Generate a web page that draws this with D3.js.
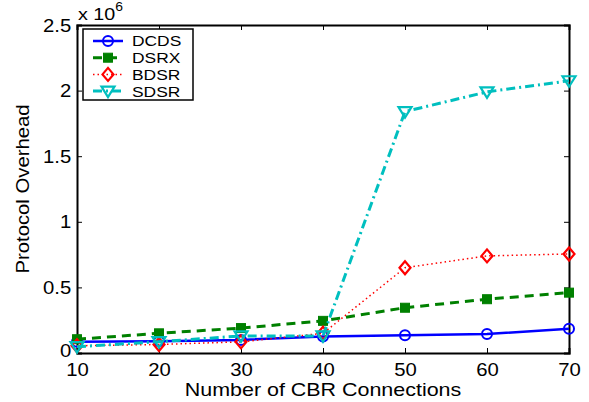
<!DOCTYPE html>
<html>
<head>
<meta charset="utf-8">
<script src="https://cdn.jsdelivr.net/npm/d3@7"></script>
<style>
  html, body { margin: 0; padding: 0; background: #fff; }
  svg { display: block; font-family: "Liberation Sans", Arial, sans-serif; }
</style>
</head>
<body>
<svg id="chart" width="589" height="402"></svg>
<script>
// Connections on the x axis
const connections = [10, 20, 30, 40, 50, 60, 70];
// Protocol overhead in units of 10^6
const dcds = [0.085, 0.09, 0.10, 0.125, 0.135, 0.145, 0.185];
const dsrx = [0.105, 0.15, 0.19, 0.245, 0.345, 0.41, 0.46];
const bdsr = [0.055, 0.065, 0.085, 0.15, 0.65, 0.74, 0.755];
const sdsr = [0.048, 0.086, 0.13, 0.13, 1.84, 1.99, 2.075];
const yTicks = [0, 0.5, 1, 1.5, 2, 2.5];
const yTickLabels = ["0", "0.5", "1", "1.5", "2", "2.5"];

const series = [
  { name: "DCDS", values: dcds, color: "#0000ff", width: 2.5, dash: null, marker: "circle" },
  { name: "DSRX", values: dsrx, color: "#008000", width: 3, dash: "9,6", marker: "square" },
  { name: "BDSR", values: bdsr, color: "#ff0000", width: 1.5, dash: "1.5,3", marker: "diamond" },
  { name: "SDSR", values: sdsr, color: "#00bfbf", width: 3, dash: "9,4,2,4", marker: "triangle" }
];

const svg = d3.select("#chart");
const m = { left: 77, right: 20, top: 25, bottom: 49 };
const W = 589, H = 402;
const x = d3.scaleLinear().domain([10, 70]).range([m.left, W - m.right]);
const y = d3.scaleLinear().domain([0, 2.5]).range([H - m.bottom, m.top]);

// Text is set a little wide, like the original figure's font
const STRETCH = 1.16;
function wideText(parent, px, py, str, size, anchor) {
  return parent.append("text")
    .attr("transform", `translate(${px},${py}) scale(${STRETCH},1)`)
    .attr("text-anchor", anchor || "start")
    .attr("font-size", size).attr("fill", "#000").text(str);
}

// Axes (ticks pointing inward, mirrored on top and right)
const tickLen = 5;
const gx = svg.append("g").attr("transform", `translate(0,${y(0)})`)
  .call(d3.axisBottom(x).tickValues(connections).tickSize(-tickLen).tickPadding(10));
const gxTop = svg.append("g").attr("transform", `translate(0,${y(2.5)})`)
  .call(d3.axisTop(x).tickValues(connections).tickSize(-tickLen).tickFormat(""));
const gy = svg.append("g").attr("transform", `translate(${x(10)},0)`)
  .call(d3.axisLeft(y).tickValues(yTicks).tickSize(-tickLen).tickPadding(5)
    .tickFormat((d, i) => yTickLabels[i]));
const gyRight = svg.append("g").attr("transform", `translate(${x(70)},0)`)
  .call(d3.axisRight(y).tickValues(yTicks).tickSize(-tickLen).tickFormat(""));

[gx, gxTop, gy, gyRight].forEach(g => {
  g.select(".domain").attr("stroke", "#000").attr("stroke-width", 2);
  g.selectAll(".tick line").attr("stroke", "#000").attr("stroke-width", 1);
  g.selectAll("text").attr("fill", "#000").attr("font-size", 17.5)
    .attr("font-family", "Liberation Sans, Arial, sans-serif")
    .attr("transform", `scale(${STRETCH},1)`);
});
gx.selectAll("text").attr("dy", "0.72em");
gy.selectAll("text").attr("dy", (d) => d === 0 ? "0.22em" : "0.35em");

// Axis titles
wideText(svg, (x(10) + x(70)) / 2, 396, "Number of CBR Connections", 18.5, "middle");
svg.append("text")
  .attr("transform", `translate(29,${(y(0) + y(2.5)) / 2}) rotate(-90) scale(${STRETCH},1)`)
  .attr("text-anchor", "middle").attr("font-size", 17.5).text("Protocol Overhead");
const mult = wideText(svg, 78, 20, "", 17, "start");
mult.append("tspan").text("x 10");
mult.append("tspan").attr("dy", -9).attr("font-size", 12).text("6");

// Marker drawing
function drawMarker(g, type, color, cx, cy) {
  if (type === "circle") {
    g.append("circle").attr("cx", cx).attr("cy", cy).attr("r", 5)
      .attr("fill", "none").attr("stroke", color).attr("stroke-width", 2);
  } else if (type === "square") {
    g.append("rect").attr("x", cx - 4.5).attr("y", cy - 4.5).attr("width", 9).attr("height", 9)
      .attr("fill", color).attr("stroke", color).attr("stroke-width", 1);
  } else if (type === "diamond") {
    g.append("path").attr("d", `M${cx},${cy - 6.5}L${cx + 5.5},${cy}L${cx},${cy + 6.5}L${cx - 5.5},${cy}Z`)
      .attr("fill", "none").attr("stroke", color).attr("stroke-width", 2.2);
  } else if (type === "triangle") {
    g.append("path").attr("d", `M${cx - 6.5},${cy - 4.5}L${cx + 6.5},${cy - 4.5}L${cx},${cy + 6}Z`)
      .attr("fill", "none").attr("stroke", color).attr("stroke-width", 2.2);
  }
}

const line = d3.line().x((d, i) => x(connections[i])).y(d => y(d));
const plot = svg.append("g");
series.forEach(s => {
  plot.append("path").datum(s.values).attr("d", line)
    .attr("fill", "none").attr("stroke", s.color).attr("stroke-width", s.width)
    .attr("stroke-dasharray", s.dash);
  const mg = plot.append("g");
  s.values.forEach((v, i) => drawMarker(mg, s.marker, s.color, x(connections[i]), y(v)));
});

// Legend
const lg = svg.append("g");
lg.append("rect").attr("x", 83).attr("y", 29).attr("width", 110).attr("height", 71)
  .attr("fill", "#fff").attr("stroke", "#000").attr("stroke-width", 1.5);
series.forEach((s, i) => {
  const ly = 41 + i * 16.7;
  lg.append("line").attr("x1", 93).attr("x2", 123).attr("y1", ly).attr("y2", ly)
    .attr("stroke", s.color).attr("stroke-width", s.width).attr("stroke-dasharray", s.dash);
  drawMarker(lg, s.marker, s.color, 108, ly);
  wideText(lg, 132, ly, s.name, 15, "start").attr("dy", "0.36em");
});
</script>
</body>
</html>
